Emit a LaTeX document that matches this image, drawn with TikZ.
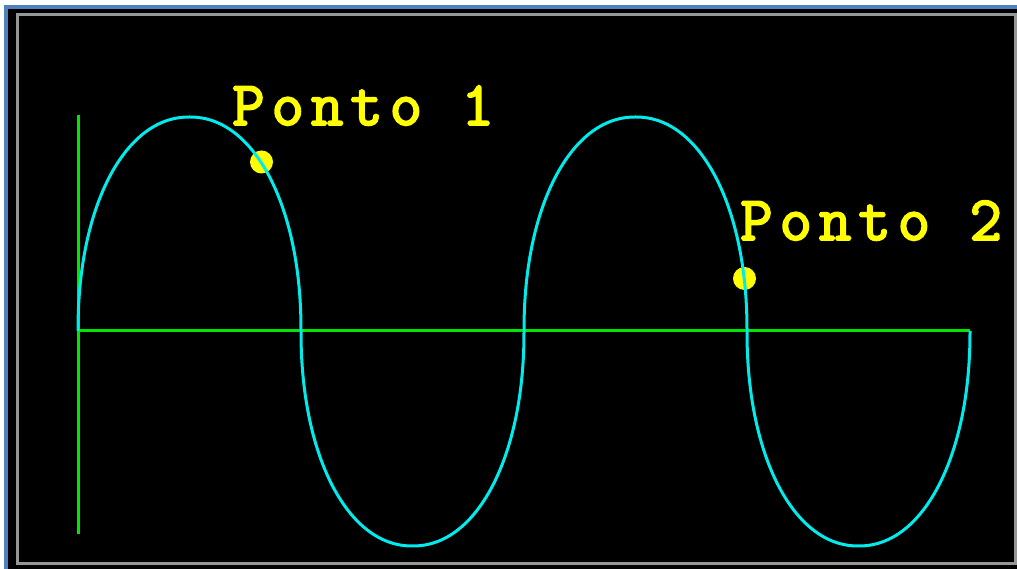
\documentclass[tikz,border=0pt]{standalone}
\usepackage{fontspec}
\newfontfamily\labelfont[LetterSpace=11,FakeBold=3]{Latin Modern Mono}
\definecolor{wavecyan}{RGB}{0,235,235}
\definecolor{axisgreen}{RGB}{0,230,0}
\definecolor{dotyellow}{RGB}{255,255,0}
\definecolor{framegray}{RGB}{150,150,150}
\definecolor{frameblue}{RGB}{79,129,189}
\begin{document}
\begin{tikzpicture}[x=1pt,y=1pt,
  axisline/.style={draw=axisgreen,line width=3pt},
  waveline/.style={draw=wavecyan,line width=3pt},
  dotmark/.style={circle,fill=dotyellow,inner sep=0pt,minimum size=23pt},
  ptlabel/.style={text=dotyellow,font=\labelfont\fontsize{63}{63}\selectfont,inner sep=0pt,anchor=base west}]
\useasboundingbox (0,0) rectangle (1017,569);
\fill[white] (0,0) rectangle (1017,569);
\fill[black] (8,0) rectangle (1017,560);
\draw[frameblue,line width=4pt] (6,-10) -- (6,562) -- (1030,562);
\draw[framegray,line width=3pt] (17.5,5.5) rectangle (1015.5,554.5);
% axes
\coordinate (o) at (78,238);
\coordinate (ytop) at (78,454);
\coordinate (ybot) at (78,35);
\coordinate (xend) at (970,238);
\draw[axisline] (ybot) -- (ytop);
\draw[axisline] (o) -- (xend);
% points
\node[dotmark] (p1) at (261.5,407) {};
\node[dotmark] (p2) at (744.5,290.5) {};
% wave (superellipse lobes)
\def\pe{0.952}
\draw[waveline,variable=\t,samples=181,smooth]
  plot[domain=0:180] ({189.5-111.5*cos(\t)*pow(abs(cos(\t))+0.00001,\pe-1)},{238+214*sin(\t)*pow(abs(sin(\t))+0.00001,\pe-1)})
  -- plot[domain=0:180] ({412.5-111.5*cos(\t)*pow(abs(cos(\t))+0.00001,\pe-1)},{238-215*sin(\t)*pow(abs(sin(\t))+0.00001,\pe-1)})
  -- plot[domain=0:180] ({635.5-111.5*cos(\t)*pow(abs(cos(\t))+0.00001,\pe-1)},{238+214*sin(\t)*pow(abs(sin(\t))+0.00001,\pe-1)})
  -- plot[domain=0:180] ({858.5-111.5*cos(\t)*pow(abs(cos(\t))+0.00001,\pe-1)},{238-215*sin(\t)*pow(abs(sin(\t))+0.00001,\pe-1)});
% labels
\node[ptlabel] (l1) at (232,444) {Ponto 1};
\node[ptlabel] (l2) at (740,329) {Ponto 2};
\end{tikzpicture}
\end{document}
